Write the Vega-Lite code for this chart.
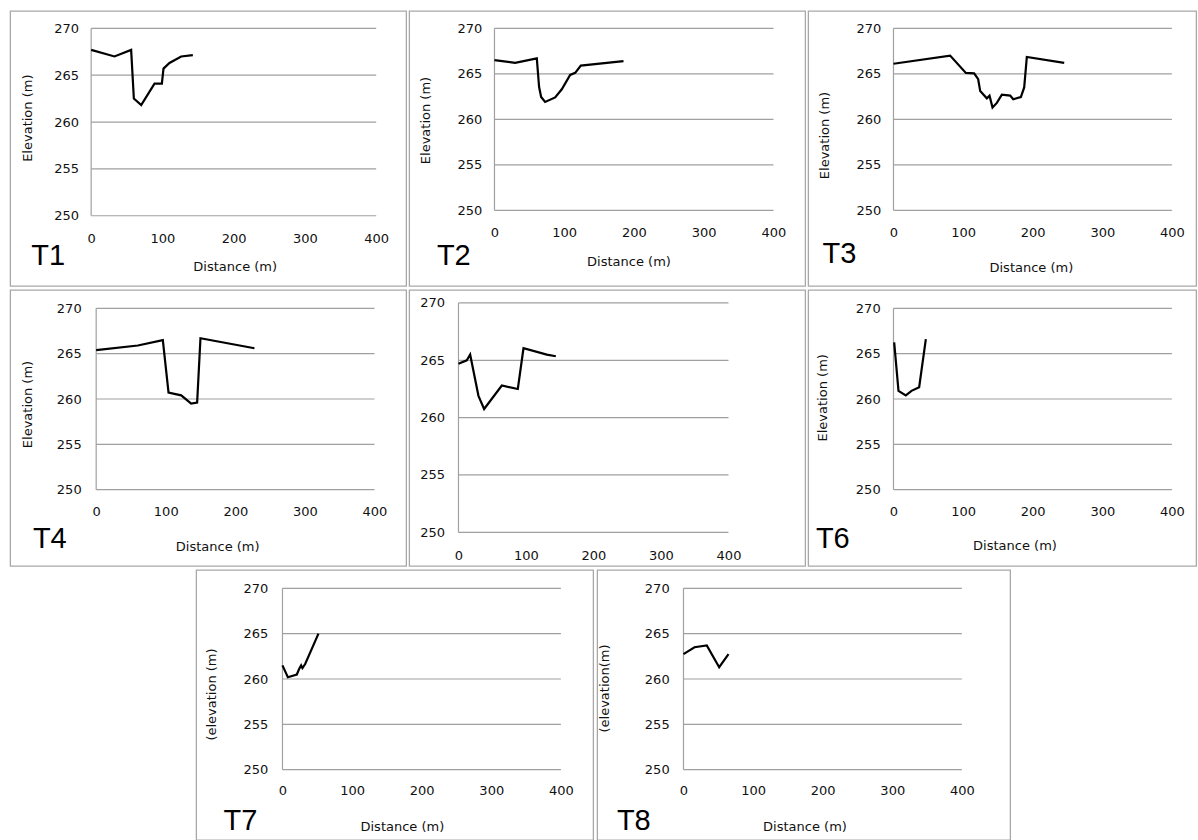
{
  "$schema": "https://vega.github.io/schema/vega-lite/v6.json",
  "padding": {"left": 9, "top": 10, "right": 1, "bottom": 0},
  "background": "white",
  "datasets": {
    "grid": [{"g": 250}, {"g": 255}, {"g": 260}, {"g": 265}, {"g": 270}],
    "t1": [{"d": 0, "e": 267.7}, {"d": 32.7, "e": 267.0}, {"d": 56.1, "e": 267.7}, {"d": 59.9, "e": 262.5}, {"d": 70.2, "e": 261.8}, {"d": 88.9, "e": 264.1}, {"d": 99.2, "e": 264.1}, {"d": 101.5, "e": 265.7}, {"d": 109.9, "e": 266.3}, {"d": 126.3, "e": 267.0}, {"d": 142.7, "e": 267.15}],
    "t2": [{"d": 0, "e": 266.5}, {"d": 29.6, "e": 266.2}, {"d": 60.7, "e": 266.7}, {"d": 64.0, "e": 263.55}, {"d": 66.9, "e": 262.45}, {"d": 72.6, "e": 261.9}, {"d": 87.0, "e": 262.4}, {"d": 96.5, "e": 263.3}, {"d": 108.5, "e": 264.87}, {"d": 115.7, "e": 265.1}, {"d": 123.8, "e": 265.9}, {"d": 185.0, "e": 266.4}],
    "t3": [{"d": 0, "e": 266.1}, {"d": 81.4, "e": 267.0}, {"d": 104, "e": 265.1}, {"d": 115.9, "e": 265.05}, {"d": 121.7, "e": 264.4}, {"d": 124.6, "e": 263.1}, {"d": 134.1, "e": 262.3}, {"d": 138, "e": 262.6}, {"d": 142.3, "e": 261.3}, {"d": 148.5, "e": 261.8}, {"d": 155.7, "e": 262.7}, {"d": 167.7, "e": 262.6}, {"d": 172, "e": 262.2}, {"d": 183, "e": 262.45}, {"d": 187.8, "e": 263.5}, {"d": 191.6, "e": 266.85}, {"d": 245.3, "e": 266.2}],
    "t4": [{"d": 0, "e": 265.4}, {"d": 59.9, "e": 265.9}, {"d": 95.8, "e": 266.5}, {"d": 104, "e": 260.7}, {"d": 122.2, "e": 260.4}, {"d": 136.5, "e": 259.5}, {"d": 145.1, "e": 259.6}, {"d": 149.9, "e": 266.7}, {"d": 227.5, "e": 265.6}],
    "t5": [{"d": 0, "e": 264.7}, {"d": 12.3, "e": 265.0}, {"d": 17.3, "e": 265.5}, {"d": 29.6, "e": 261.9}, {"d": 38.0, "e": 260.75}, {"d": 64.2, "e": 262.8}, {"d": 87.9, "e": 262.5}, {"d": 96.3, "e": 266.05}, {"d": 130.9, "e": 265.5}, {"d": 144.2, "e": 265.35}],
    "t6": [{"d": 1, "e": 266.25}, {"d": 7.2, "e": 260.9}, {"d": 17.7, "e": 260.4}, {"d": 25.9, "e": 260.9}, {"d": 36.9, "e": 261.3}, {"d": 46.5, "e": 266.6}],
    "t7": [{"d": 0, "e": 261.5}, {"d": 7.7, "e": 260.2}, {"d": 20.6, "e": 260.5}, {"d": 23.9, "e": 261.1}, {"d": 26.8, "e": 261.5}, {"d": 28.7, "e": 261.2}, {"d": 32.6, "e": 261.65}, {"d": 51.7, "e": 265.0}],
    "t8": [{"d": 0, "e": 262.75}, {"d": 15.8, "e": 263.5}, {"d": 33.5, "e": 263.7}, {"d": 51.3, "e": 261.3}, {"d": 64.7, "e": 262.75}]
  },
  "vconcat": [
    {"hconcat": [
      {"width": 396, "height": 275, "title": {"text": "T1", "dx": 21, "dy": -48},
       "layer": [
        {"data": {"name": "grid"}, "mark": {"type": "rule", "color": "#a0a0a0", "strokeWidth": 1.2},
         "encoding": {"y": {"field": "g", "type": "quantitative", "scale": {"domain": [242.5, 271.85], "nice": false, "zero": false}},
                      "x": {"datum": 0, "type": "quantitative", "scale": {"domain": [-113.68, 442.1], "nice": false, "zero": false}}, "x2": {"datum": 400}}},
        {"data": {"values": [{}]}, "mark": {"type": "rule", "color": "#a0a0a0", "strokeWidth": 1.2},
         "encoding": {"x": {"datum": 0, "type": "quantitative", "scale": {"domain": [-113.68, 442.1], "nice": false, "zero": false}},
                      "y": {"datum": 250, "type": "quantitative", "scale": {"domain": [242.5, 271.85], "nice": false, "zero": false}}, "y2": {"datum": 270}}},
        {"data": {"name": "t1"}, "mark": {"type": "line", "color": "#000000", "strokeWidth": 2.2},
         "encoding": {"x": {"field": "d", "type": "quantitative", "scale": {"domain": [-113.68, 442.1], "nice": false, "zero": false},
                            "axis": {"values": [0, 100, 200, 300, 400], "offset": -70.3, "labelPadding": 23, "title": "Distance (m)", "titleX": 224.5, "titleY": 50.3}},
                      "y": {"field": "e", "type": "quantitative", "scale": {"domain": [242.5, 271.85], "nice": false, "zero": false},
                            "axis": {"values": [250, 255, 260, 265, 270], "offset": -81, "labelPadding": 12.7, "title": "Elevation (m)", "titleX": -63.3, "titleY": 106.7}}}}
       ]},
      {"width": 396, "height": 275, "title": {"text": "T2", "dx": 27.7, "dy": -48},
       "layer": [
        {"data": {"name": "grid"}, "mark": {"type": "rule", "color": "#a0a0a0", "strokeWidth": 1.2},
         "encoding": {"y": {"field": "g", "type": "quantitative", "scale": {"domain": [241.68, 271.9], "nice": false, "zero": false}},
                      "x": {"datum": 0, "type": "quantitative", "scale": {"domain": [-122.29, 445.45], "nice": false, "zero": false}}, "x2": {"datum": 400}}},
        {"data": {"values": [{}]}, "mark": {"type": "rule", "color": "#a0a0a0", "strokeWidth": 1.2},
         "encoding": {"x": {"datum": 0, "type": "quantitative", "scale": {"domain": [-122.29, 445.45], "nice": false, "zero": false}},
                      "y": {"datum": 250, "type": "quantitative", "scale": {"domain": [241.68, 271.9], "nice": false, "zero": false}}, "y2": {"datum": 270}}},
        {"data": {"name": "t2"}, "mark": {"type": "line", "color": "#000000", "strokeWidth": 2.2},
         "encoding": {"x": {"field": "d", "type": "quantitative", "scale": {"domain": [-122.29, 445.45], "nice": false, "zero": false},
                            "axis": {"values": [0, 100, 200, 300, 400], "offset": -75.7, "labelPadding": 21.7, "title": "Distance (m)", "titleX": 219.3, "titleY": 51.4}},
                      "y": {"field": "e", "type": "quantitative", "scale": {"domain": [241.68, 271.9], "nice": false, "zero": false},
                            "axis": {"values": [250, 255, 260, 265, 270], "offset": -85.3, "labelPadding": 12.6, "title": "Elevation (m)", "titleX": -68.6, "titleY": 109}}}}
       ]},
      {"width": 388, "height": 275, "title": {"text": "T3", "dx": 14.3, "dy": -49.7},
       "layer": [
        {"data": {"name": "grid"}, "mark": {"type": "rule", "color": "#a0a0a0", "strokeWidth": 1.2},
         "encoding": {"y": {"field": "g", "type": "quantitative", "scale": {"domain": [241.68, 271.9], "nice": false, "zero": false}},
                      "x": {"datum": 0, "type": "quantitative", "scale": {"domain": [-122.56, 434.9], "nice": false, "zero": false}}, "x2": {"datum": 400}}},
        {"data": {"values": [{}]}, "mark": {"type": "rule", "color": "#a0a0a0", "strokeWidth": 1.2},
         "encoding": {"x": {"datum": 0, "type": "quantitative", "scale": {"domain": [-122.56, 434.9], "nice": false, "zero": false}},
                      "y": {"datum": 250, "type": "quantitative", "scale": {"domain": [241.68, 271.9], "nice": false, "zero": false}}, "y2": {"datum": 270}}},
        {"data": {"name": "t3"}, "mark": {"type": "line", "color": "#000000", "strokeWidth": 2.2},
         "encoding": {"x": {"field": "d", "type": "quantitative", "scale": {"domain": [-122.56, 434.9], "nice": false, "zero": false},
                            "axis": {"values": [0, 100, 200, 300, 400], "offset": -75.7, "labelPadding": 21.7, "title": "Distance (m)", "titleX": 222.7, "titleY": 56.7}},
                      "y": {"field": "e", "type": "quantitative", "scale": {"domain": [241.68, 271.9], "nice": false, "zero": false},
                            "axis": {"values": [250, 255, 260, 265, 270], "offset": -85.3, "labelPadding": 12.6, "title": "Elevation (m)", "titleX": -68.6, "titleY": 124}}}}
       ]}
    ], "spacing": 3, "bounds": "flush"},
    {"hconcat": [
      {"width": 396, "height": 276, "title": {"text": "T4", "dx": 22.7, "dy": -45},
       "layer": [
        {"data": {"name": "grid"}, "mark": {"type": "rule", "color": "#a0a0a0", "strokeWidth": 1.2},
         "encoding": {"y": {"field": "g", "type": "quantitative", "scale": {"domain": [241.59, 272.02], "nice": false, "zero": false}},
                      "x": {"datum": 0, "type": "quantitative", "scale": {"domain": [-123.61, 445.56], "nice": false, "zero": false}}, "x2": {"datum": 400}}},
        {"data": {"values": [{}]}, "mark": {"type": "rule", "color": "#a0a0a0", "strokeWidth": 1.2},
         "encoding": {"x": {"datum": 0, "type": "quantitative", "scale": {"domain": [-123.61, 445.56], "nice": false, "zero": false}},
                      "y": {"datum": 250, "type": "quantitative", "scale": {"domain": [241.59, 272.02], "nice": false, "zero": false}}, "y2": {"datum": 270}}},
        {"data": {"name": "t4"}, "mark": {"type": "line", "color": "#000000", "strokeWidth": 2.2},
         "encoding": {"x": {"field": "d", "type": "quantitative", "scale": {"domain": [-123.61, 445.56], "nice": false, "zero": false},
                            "axis": {"values": [0, 100, 200, 300, 400], "offset": -76.3, "labelPadding": 22, "title": "Distance (m)", "titleX": 207, "titleY": 56.6}},
                      "y": {"field": "e", "type": "quantitative", "scale": {"domain": [241.59, 272.02], "nice": false, "zero": false},
                            "axis": {"values": [250, 255, 260, 265, 270], "offset": -86, "labelPadding": 15, "title": "Elevation (m)", "titleX": -68.3, "titleY": 114}}}}
       ]},
      {"width": 396, "height": 276,
       "layer": [
        {"data": {"name": "grid"}, "mark": {"type": "rule", "color": "#a0a0a0", "strokeWidth": 1.2},
         "encoding": {"y": {"field": "g", "type": "quantitative", "scale": {"domain": [247.06, 271.13], "nice": false, "zero": false}},
                      "x": {"datum": 0, "type": "quantitative", "scale": {"domain": [-73.04, 513.6], "nice": false, "zero": false}}, "x2": {"datum": 400}}},
        {"data": {"values": [{}]}, "mark": {"type": "rule", "color": "#a0a0a0", "strokeWidth": 1.2},
         "encoding": {"x": {"datum": 0, "type": "quantitative", "scale": {"domain": [-73.04, 513.6], "nice": false, "zero": false}},
                      "y": {"datum": 250, "type": "quantitative", "scale": {"domain": [247.06, 271.13], "nice": false, "zero": false}}, "y2": {"datum": 270}}},
        {"data": {"name": "t5"}, "mark": {"type": "line", "color": "#000000", "strokeWidth": 2.2},
         "encoding": {"x": {"field": "d", "type": "quantitative", "scale": {"domain": [-73.04, 513.6], "nice": false, "zero": false},
                            "axis": {"values": [0, 100, 200, 300, 400], "offset": -33.7, "labelPadding": 23.4, "title": null}},
                      "y": {"field": "e", "type": "quantitative", "scale": {"domain": [247.06, 271.13], "nice": false, "zero": false},
                            "axis": {"values": [250, 255, 260, 265, 270], "offset": -49.3, "labelPadding": 14, "title": null}}}}
       ]},
      {"width": 388, "height": 276, "title": {"text": "T6", "dx": 7.7, "dy": -45},
       "layer": [
        {"data": {"name": "grid"}, "mark": {"type": "rule", "color": "#a0a0a0", "strokeWidth": 1.2},
         "encoding": {"y": {"field": "g", "type": "quantitative", "scale": {"domain": [241.59, 272.02], "nice": false, "zero": false}},
                      "x": {"datum": 0, "type": "quantitative", "scale": {"domain": [-122.56, 434.9], "nice": false, "zero": false}}, "x2": {"datum": 400}}},
        {"data": {"values": [{}]}, "mark": {"type": "rule", "color": "#a0a0a0", "strokeWidth": 1.2},
         "encoding": {"x": {"datum": 0, "type": "quantitative", "scale": {"domain": [-122.56, 434.9], "nice": false, "zero": false}},
                      "y": {"datum": 250, "type": "quantitative", "scale": {"domain": [241.59, 272.02], "nice": false, "zero": false}}, "y2": {"datum": 270}}},
        {"data": {"name": "t6"}, "mark": {"type": "line", "color": "#000000", "strokeWidth": 2.2},
         "encoding": {"x": {"field": "d", "type": "quantitative", "scale": {"domain": [-122.56, 434.9], "nice": false, "zero": false},
                            "axis": {"values": [0, 100, 200, 300, 400], "offset": -76.3, "labelPadding": 22, "title": "Distance (m)", "titleX": 206.3, "titleY": 56}},
                      "y": {"field": "e", "type": "quantitative", "scale": {"domain": [241.59, 272.02], "nice": false, "zero": false},
                            "axis": {"values": [250, 255, 260, 265, 270], "offset": -85.3, "labelPadding": 13.3, "title": "Elevation (m)", "titleX": -71, "titleY": 107.3}}}}
       ]}
    ], "spacing": 3, "bounds": "flush"},
    {"hconcat": [
      {"width": 397, "height": 270, "title": {"text": "T7", "dx": 27.3, "dy": -37.3},
       "layer": [
        {"data": {"name": "grid"}, "mark": {"type": "rule", "color": "#a0a0a0", "strokeWidth": 1.2},
         "encoding": {"y": {"field": "g", "type": "quantitative", "scale": {"domain": [242.25, 272.02], "nice": false, "zero": false}},
                      "x": {"datum": 0, "type": "quantitative", "scale": {"domain": [-124.0, 446.4], "nice": false, "zero": false}}, "x2": {"datum": 400}}},
        {"data": {"values": [{}]}, "mark": {"type": "rule", "color": "#a0a0a0", "strokeWidth": 1.2},
         "encoding": {"x": {"datum": 0, "type": "quantitative", "scale": {"domain": [-124.0, 446.4], "nice": false, "zero": false}},
                      "y": {"datum": 250, "type": "quantitative", "scale": {"domain": [242.25, 272.02], "nice": false, "zero": false}}, "y2": {"datum": 270}}},
        {"data": {"name": "t7"}, "mark": {"type": "line", "color": "#000000", "strokeWidth": 2.2},
         "encoding": {"x": {"field": "d", "type": "quantitative", "scale": {"domain": [-124.0, 446.4], "nice": false, "zero": false},
                            "axis": {"values": [0, 100, 200, 300, 400], "offset": -70.3, "labelPadding": 21, "title": "Distance (m)", "titleX": 205.7, "titleY": 56.6}},
                      "y": {"field": "e", "type": "quantitative", "scale": {"domain": [242.25, 272.02], "nice": false, "zero": false},
                            "axis": {"values": [250, 255, 260, 265, 270], "offset": -86.3, "labelPadding": 14.6, "title": "(elevation (m)", "titleX": -70.6, "titleY": 124}}}}
       ]},
      {"width": 413, "height": 270, "title": {"text": "T8", "dx": 19.7, "dy": -37.3},
       "layer": [
        {"data": {"name": "grid"}, "mark": {"type": "rule", "color": "#a0a0a0", "strokeWidth": 1.2},
         "encoding": {"y": {"field": "g", "type": "quantitative", "scale": {"domain": [242.25, 272.02], "nice": false, "zero": false}},
                      "x": {"datum": 0, "type": "quantitative", "scale": {"domain": [-124.0, 469.4], "nice": false, "zero": false}}, "x2": {"datum": 400}}},
        {"data": {"values": [{}]}, "mark": {"type": "rule", "color": "#a0a0a0", "strokeWidth": 1.2},
         "encoding": {"x": {"datum": 0, "type": "quantitative", "scale": {"domain": [-124.0, 469.4], "nice": false, "zero": false}},
                      "y": {"datum": 250, "type": "quantitative", "scale": {"domain": [242.25, 272.02], "nice": false, "zero": false}}, "y2": {"datum": 270}}},
        {"data": {"name": "t8"}, "mark": {"type": "line", "color": "#000000", "strokeWidth": 2.2},
         "encoding": {"x": {"field": "d", "type": "quantitative", "scale": {"domain": [-124.0, 469.4], "nice": false, "zero": false},
                            "axis": {"values": [0, 100, 200, 300, 400], "offset": -70.3, "labelPadding": 21, "title": "Distance (m)", "titleX": 207.3, "titleY": 56.6}},
                      "y": {"field": "e", "type": "quantitative", "scale": {"domain": [242.25, 272.02], "nice": false, "zero": false},
                            "axis": {"values": [250, 255, 260, 265, 270], "offset": -86.3, "labelPadding": 14.3, "title": "(elevation(m)", "titleX": -79, "titleY": 118}}}}
       ]}
    ], "spacing": 4, "bounds": "flush"}
  ],
  "spacing": 2,
  "center": true,
  "config": {
    "concat": {"spacing": 4},
    "view": {"stroke": "#a8a8a8", "strokeWidth": 1.3},
    "axis": {"labelFont": "DejaVu Sans", "labelFontSize": 13, "labelColor": "#111111", "titleFont": "DejaVu Sans", "titleFontSize": 13, "titleFontWeight": "normal", "titleColor": "#111111", "grid": false, "domain": false, "ticks": false, "labelFlush": false, "labelOverlap": false},
    "axisX": {"labelBaseline": "middle", "labelAlign": "center", "titleBaseline": "middle", "titleAlign": "center", "titleAngle": 0},
    "axisY": {"labelBaseline": "middle", "labelAlign": "right", "titleBaseline": "middle", "titleAlign": "center", "titleAngle": 270},
    "title": {"font": "Liberation Sans", "fontSize": 29, "fontWeight": "normal", "color": "#000000", "orient": "bottom", "anchor": "start", "frame": "group", "baseline": "alphabetic", "offset": 0}
  }
}
